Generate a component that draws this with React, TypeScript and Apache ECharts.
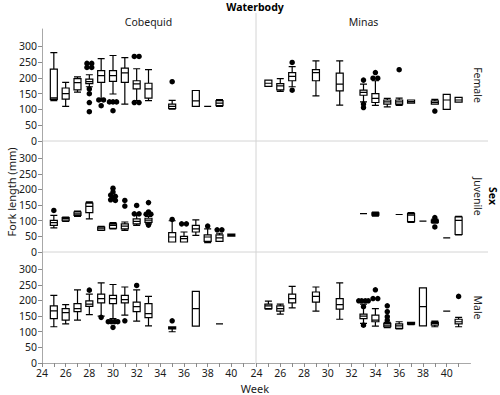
import React, { useEffect, useRef } from "react";
import * as echarts from "echarts";

// ---------- data ----------
const WATERBODIES = ["Cobequid", "Minas"];
const SEXES = ["Female", "Juvenile", "Male"];
const WEEK_LABELS = [24, 26, 28, 30, 32, 34, 36, 38, 40];
const WEEK_TICKS = [24, 25, 26, 27, 28, 29, 30, 31, 32, 33, 34, 35, 36, 37, 38, 39, 40, 41];
const Y_TICKS = [0, 50, 100, 150, 200, 250, 300];

// box rows: [week, min, Q1, median, Q3, max]
const cobequidFemaleBoxes = [
  [25, 128, 132, 137, 228, 280],
  [26, 110, 133, 150, 168, 186],
  [27, 155, 162, 185, 198, 203],
  [28, 172, 182, 188, 196, 210],
  [29, 133, 186, 207, 223, 261],
  [30, 149, 189, 207, 223, 271],
  [31, 117, 186, 216, 231, 264],
  [32, 128, 165, 181, 191, 229],
  [33, 128, 136, 165, 183, 226],
  [35, 101, 103, 110, 117, 129],
  [37, 110, 110, 127, 160, 160],
  [38, 110, 110, 110, 110, 110],
  [39, 110, 112, 120, 128, 131],
];
const cobequidFemaleOutliers = [
  [27.8, 246], [28.2, 246], [27.8, 233], [28.2, 233], [28, 165], [28, 150], [28, 122], [28, 93],
  [28.8, 130], [29.2, 130], [29, 112],
  [29.7, 124], [30, 124], [30.3, 124], [30, 96],
  [31.8, 268], [32.2, 268], [31.8, 122], [32.2, 122],
  [35, 188],
];

const minasFemaleBoxes = [
  [25, 173, 173, 183, 193, 193],
  [26, 157, 162, 175, 182, 198],
  [27, 172, 191, 205, 217, 236],
  [29, 143, 191, 217, 226, 254],
  [31, 114, 159, 180, 215, 254],
  [33, 124, 145, 154, 161, 180],
  [34, 113, 122, 135, 150, 191],
  [35, 108, 117, 124, 130, 135],
  [36, 113, 117, 124, 130, 136],
  [37, 120, 120, 125, 130, 130],
  [39, 117, 117, 122, 127, 132],
  [40, 100, 100, 130, 148, 148],
  [41, 123, 123, 130, 138, 138],
];
const minasFemaleOutliers = [
  [27, 249], [27, 161],
  [33, 193], [33, 117], [33, 106],
  [34, 217], [33.8, 199], [34.2, 199],
  [36, 226],
  [39, 95],
];

const cobequidJuvenileBoxes = [
  [25, 77, 85, 94, 101, 117],
  [26, 98, 100, 106, 110, 112],
  [27, 114, 117, 122, 128, 131],
  [28, 106, 126, 146, 156, 160],
  [29, 69, 70, 76, 80, 82],
  [30, 74, 76, 85, 90, 94],
  [31, 69, 74, 83, 90, 96],
  [32, 85, 90, 98, 106, 119],
  [33, 90, 95, 102, 108, 114],
  [35, 32, 32, 48, 62, 100],
  [36, 32, 32, 43, 50, 64],
  [37, 53, 64, 74, 85, 103],
  [38, 30, 34, 48, 55, 74],
  [39, 34, 34, 45, 55, 60],
  [40, 51, 51, 54, 57, 57],
];
const cobequidJuvenileOutliers = [
  [25, 133],
  [30, 204], [30, 192], [29.8, 182], [30.2, 178], [30, 172], [29.8, 167], [30.2, 165],
  [31, 165], [31, 147],
  [32, 149], [31.8, 122], [32.2, 122],
  [33, 158], [33, 128], [32.8, 121], [33.2, 121], [33, 86],
  [35, 104],
  [35.8, 90], [36.2, 90],
  [38, 83],
  [38.8, 71], [39.2, 71],
];

const minasJuvenileBoxes = [
  [33, 123, 123, 123, 123, 123],
  [34, 115, 118, 121, 125, 128],
  [36, 120, 120, 120, 120, 120],
  [37, 95, 97, 118, 123, 126],
  [38, 99, 99, 99, 99, 99],
  [39, 92, 95, 98, 102, 105],
  [40, 45, 45, 45, 45, 45],
  [41, 55, 56, 101, 112, 114],
];
const minasJuvenileOutliers = [
  [39, 110], [39, 80],
];

const cobequidMaleBoxes = [
  [25, 116, 142, 167, 183, 216],
  [26, 125, 137, 161, 174, 187],
  [27, 137, 164, 174, 190, 234],
  [28, 155, 181, 188, 199, 220],
  [29, 150, 192, 206, 220, 256],
  [30, 142, 190, 206, 216, 251],
  [31, 153, 192, 203, 216, 243],
  [32, 134, 164, 180, 195, 234],
  [33, 119, 145, 158, 190, 213],
  [35, 100, 109, 113, 116, 116],
  [37, 118, 118, 174, 229, 229],
  [39, 125, 125, 125, 125, 125],
];
const cobequidMaleOutliers = [
  [28, 233],
  [29, 146],
  [29.6, 132], [29.85, 132], [30.15, 132], [30.4, 132], [30, 114],
  [31, 135],
  [32, 248],
  [35, 135],
];

const minasMaleBoxes = [
  [25, 172, 174, 183, 188, 198],
  [26, 156, 166, 174, 183, 188],
  [27, 176, 192, 206, 220, 245],
  [29, 166, 195, 213, 227, 243],
  [31, 140, 172, 187, 206, 256],
  [33, 127, 142, 150, 156, 188],
  [34, 118, 132, 137, 153, 174],
  [35, 113, 116, 121, 127, 130],
  [36, 109, 111, 119, 125, 132],
  [37, 123, 124, 127, 130, 130],
  [38, 119, 119, 180, 240, 240],
  [39, 116, 121, 127, 130, 134],
  [40, 166, 166, 166, 166, 166],
  [41, 116, 125, 132, 140, 146],
];
const minasMaleOutliers = [
  [32.6, 199], [32.85, 199], [33.15, 199], [33.4, 199], [33, 180], [33, 121],
  [34, 234], [33.8, 206], [34.2, 206],
  [35, 183], [35, 164], [35, 148], [35, 137],
  [41, 213],
];

const PANELS = [
  { row: 0, col: 0, boxes: cobequidFemaleBoxes, outliers: cobequidFemaleOutliers },
  { row: 0, col: 1, boxes: minasFemaleBoxes, outliers: minasFemaleOutliers },
  { row: 1, col: 0, boxes: cobequidJuvenileBoxes, outliers: cobequidJuvenileOutliers },
  { row: 1, col: 1, boxes: minasJuvenileBoxes, outliers: minasJuvenileOutliers },
  { row: 2, col: 0, boxes: cobequidMaleBoxes, outliers: cobequidMaleOutliers },
  { row: 2, col: 1, boxes: minasMaleBoxes, outliers: minasMaleOutliers },
];

// ---------- layout ----------
const FONT = "Noto Sans";
const GRID_LEFT = [42, 256.5];
const GRID_WIDTH = [213, 214];
const GRID_TOP = [29, 141, 252];
const GRID_HEIGHT = [112, 111, 111];
const AXIS_COLOR = "#a8a8a8";
const TICK_COLOR = "#8a8a8a";
const SEP_COLOR = "#d4d4d4";
const TEXT_COLOR = "#1a1a1a";

function buildOption() {
  const grid: any[] = [];
  const xAxis: any[] = [];
  const yAxis: any[] = [];
  const series: any[] = [];

  PANELS.forEach((p, i) => {
    grid.push({
      left: GRID_LEFT[p.col],
      top: GRID_TOP[p.row],
      width: GRID_WIDTH[p.col],
      height: GRID_HEIGHT[p.row],
      containLabel: false,
    });
    xAxis.push({
      gridIndex: i,
      type: "value",
      min: 24,
      max: 42,
      interval: 1,
      show: p.row === 2,
      axisLine: { show: true, lineStyle: { color: AXIS_COLOR, width: 1 } },
      axisTick: { show: true, length: 4, lineStyle: { color: TICK_COLOR }, customValues: WEEK_TICKS },
      axisLabel: { customValues: WEEK_LABELS, fontSize: 10.5, color: TEXT_COLOR, margin: 4, fontFamily: FONT },
      splitLine: { show: false },
    });
    yAxis.push({
      gridIndex: i,
      type: "value",
      min: 0,
      max: 355,
      interval: 50,
      show: p.col === 0,
      axisLine: { show: true, lineStyle: { color: AXIS_COLOR, width: 1 } },
      axisTick: { show: true, length: 4, lineStyle: { color: TICK_COLOR }, customValues: Y_TICKS },
      axisLabel: { customValues: Y_TICKS, fontSize: 10.5, color: TEXT_COLOR, margin: 5, fontFamily: FONT },
      splitLine: { show: false },
    });
    series.push({
      type: "boxplot",
      xAxisIndex: i,
      yAxisIndex: i,
      data: p.boxes,
      boxWidth: [7, 7],
      itemStyle: { color: "#ffffff", borderColor: "#000000", borderWidth: 1.2 },
      emphasis: { disabled: true },
      silent: true,
    });
    series.push({
      type: "scatter",
      xAxisIndex: i,
      yAxisIndex: i,
      data: p.outliers,
      symbol: "circle",
      symbolSize: 5.5,
      itemStyle: { color: "#000000", opacity: 1 },
      emphasis: { disabled: true },
      silent: true,
      z: 3,
    });
  });

  const centerX = (c: number) => GRID_LEFT[c] + GRID_WIDTH[c] / 2;
  const centerY = (r: number) => GRID_TOP[r] + GRID_HEIGHT[r] / 2;

  const graphic: any[] = [
    // separators
    { type: "line", shape: { x1: 256, y1: 13, x2: 256, y2: 363 }, style: { stroke: SEP_COLOR, lineWidth: 1 }, silent: true, z: 0 },
    { type: "line", shape: { x1: 42, y1: 141, x2: 488, y2: 141 }, style: { stroke: SEP_COLOR, lineWidth: 1 }, silent: true, z: 0 },
    { type: "line", shape: { x1: 42, y1: 252, x2: 488, y2: 252 }, style: { stroke: SEP_COLOR, lineWidth: 1 }, silent: true, z: 0 },
    // titles
    { type: "text", x: 255, y: 7, style: { text: "Waterbody", font: `bold 10.5px "${FONT}"`, fill: "#000", align: "center", verticalAlign: "middle" } },
    { type: "text", x: 255, y: 388, style: { text: "Week", font: `11px "${FONT}"`, fill: TEXT_COLOR, align: "center", verticalAlign: "middle" } },
    { type: "text", x: 11, y: 192, rotation: Math.PI / 2, style: { text: "Fork length (mm)", font: `11px "${FONT}"`, fill: TEXT_COLOR, align: "center", verticalAlign: "middle" } },
    { type: "text", x: 493, y: 196, rotation: -Math.PI / 2, style: { text: "Sex", font: `bold 10.5px "${FONT}"`, fill: "#000", align: "center", verticalAlign: "middle" } },
  ];
  WATERBODIES.forEach((w, c) => {
    graphic.push({ type: "text", x: centerX(c), y: 22, style: { text: w, font: `10.5px "${FONT}"`, fill: TEXT_COLOR, align: "center", verticalAlign: "middle" } });
  });
  SEXES.forEach((s, r) => {
    graphic.push({ type: "text", x: 478, y: centerY(r), rotation: -Math.PI / 2, style: { text: s, font: `10.5px "${FONT}"`, fill: TEXT_COLOR, align: "center", verticalAlign: "middle" } });
  });

  return {
    animation: false,
    backgroundColor: "#ffffff",
    textStyle: { fontFamily: FONT },
    grid,
    xAxis,
    yAxis,
    series,
    graphic,
  };
}

export default function App() {
  const ref = useRef<HTMLDivElement>(null);
  useEffect(() => {
    if (!ref.current) return;
    const chart = echarts.init(ref.current, null, { renderer: "svg" });
    chart.setOption(buildOption() as any);
    return () => chart.dispose();
  }, []);
  return (
    <div
      ref={ref}
      style={{ position: "fixed", left: 0, top: 0, width: 500, height: 395, background: "#fff" }}
    />
  );
}
